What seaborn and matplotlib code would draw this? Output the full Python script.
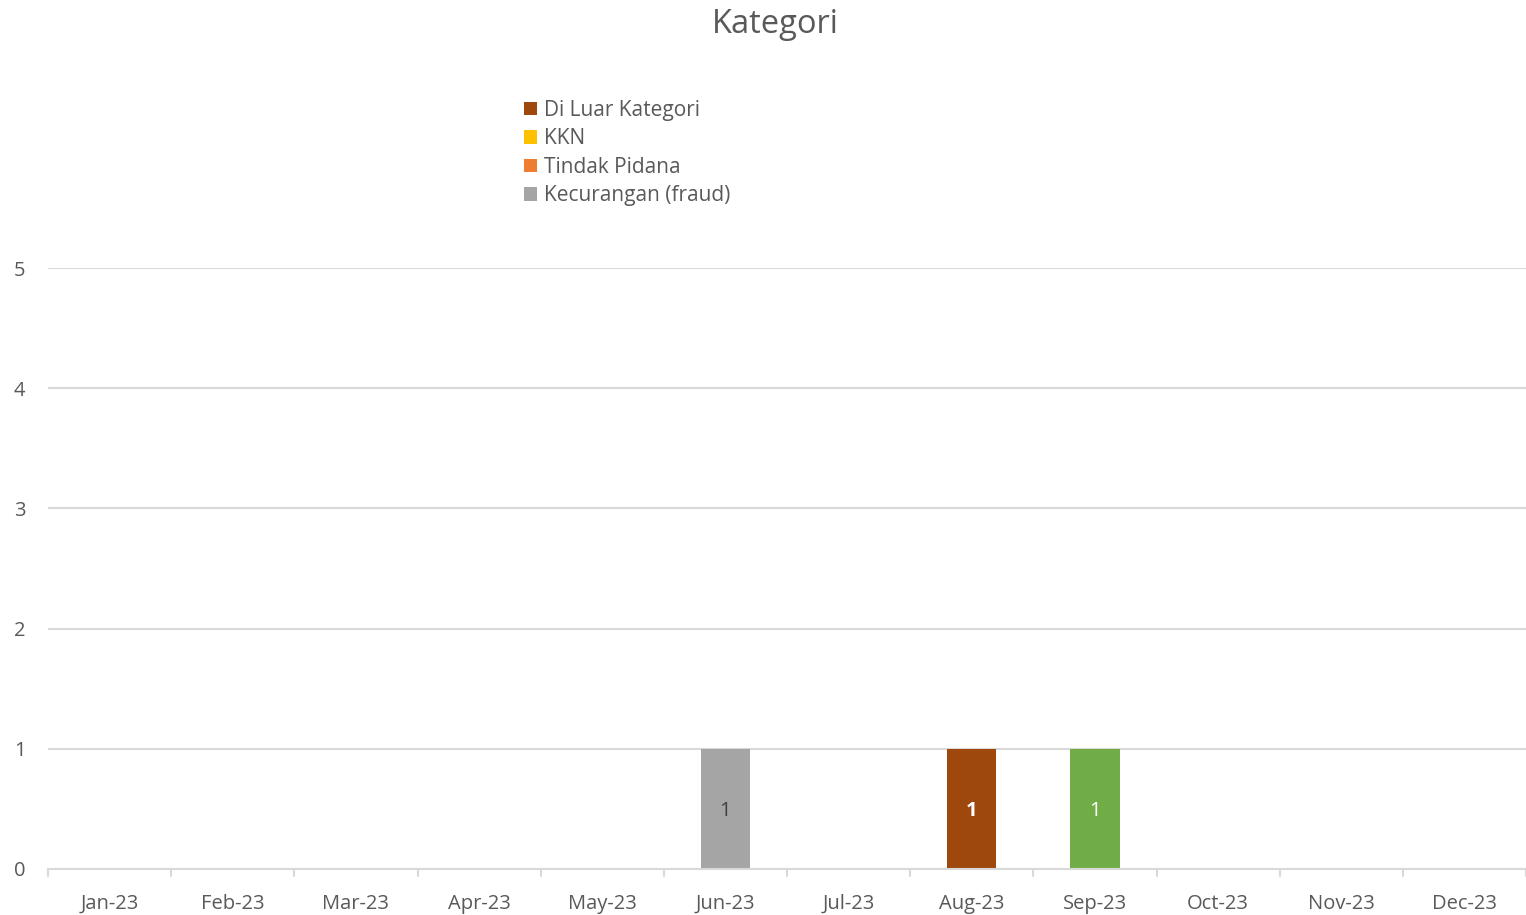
import numpy as np
import pandas as pd
import matplotlib.pyplot as plt
import seaborn as sns

# Data
bulan = ['Jan-23', 'Feb-23', 'Mar-23', 'Apr-23', 'May-23', 'Jun-23',
         'Jul-23', 'Aug-23', 'Sep-23', 'Oct-23', 'Nov-23', 'Dec-23']
di_luar_kategori = [0, 0, 0, 0, 0, 0, 0, 1, 0, 0, 0, 0]
kkn = [0, 0, 0, 0, 0, 0, 0, 0, 0, 0, 0, 0]
tindak_pidana = [0, 0, 0, 0, 0, 0, 0, 0, 0, 0, 0, 0]
kecurangan = [0, 0, 0, 0, 0, 1, 0, 0, 0, 0, 0, 0]
lainnya = [0, 0, 0, 0, 0, 0, 0, 0, 1, 0, 0, 0]  # seri hijau, tanpa legenda

seri = [
    ('Di Luar Kategori', di_luar_kategori, '#9E480E', 'white', 'bold', True),
    ('KKN', kkn, '#FFC000', '#404040', 'normal', True),
    ('Tindak Pidana', tindak_pidana, '#ED7D31', '#404040', 'normal', True),
    ('Kecurangan (fraud)', kecurangan, '#A5A5A5', '#404040', 'normal', True),
    ('Lainnya', lainnya, '#70AD47', 'white', 'normal', False),
]

sns.set_style('white')
plt.rcParams['font.family'] = ['Open Sans', 'DejaVu Sans']

fig = plt.figure(figsize=(15.26, 9.15), dpi=100)
ax = fig.add_axes([0.0315, 0.0503, 0.9685, 0.6567])

bawah = np.zeros(len(bulan))
for nama, nilai, warna, warna_teks, tebal, di_legenda in seri:
    df = pd.DataFrame({'Bulan': bulan, 'Nilai': nilai})
    sns.barplot(data=df, x='Bulan', y='Nilai', color=warna, width=0.4,
                bottom=bawah, ax=ax, saturation=1, errorbar=None,
                linewidth=0, label=nama if di_legenda else '_nolegend_')
    bars = ax.containers[-1]
    for rect, v, b in zip(bars, nilai, bawah):
        if v > 0:
            ax.text(rect.get_x() + rect.get_width() / 2, b + v / 2 - 0.02,
                    f'{v}', ha='center', va='center', color=warna_teks,
                    fontsize=14.5, fontweight=tebal)
    bawah = bawah + np.array(nilai)

if ax.get_legend() is not None:
    ax.get_legend().remove()

ax.set_ylim(0, 5)
ax.set_xlim(-0.5, len(bulan) - 0.5)
ax.set_yticks(range(6))
ax.yaxis.grid(True, color='#D9D9D9', linewidth=1.5)
ax.set_axisbelow(True)
for s in ['top', 'right', 'left']:
    ax.spines[s].set_visible(False)
ax.spines['bottom'].set_color('#D9D9D9')
ax.spines['bottom'].set_linewidth(1.5)
ax.set_xlabel('')
ax.set_ylabel('')
ax.tick_params(axis='y', length=0, labelsize=14.5, labelcolor='#595959', pad=20.5)
ax.tick_params(axis='x', length=0, labelsize=14.5, labelcolor='#595959', pad=18)
for t in ax.get_yticklabels():
    t.set_horizontalalignment('center')

# tick pemisah kategori
for i in range(len(bulan) + 1):
    ax.plot([i - 0.5, i - 0.5], [0, -0.06], color='#D9D9D9', lw=1.5,
            clip_on=False)

fig.text(0.508, 0.973, 'Kategori', ha='center', va='center',
         fontsize=23.5, color='#595959')

h, l = ax.get_legend_handles_labels()
leg = fig.legend(h, l, loc='upper left', bbox_to_anchor=(0.3435, 0.891),
                 frameon=False, fontsize=15, labelcolor='#595959',
                 handlelength=0.62, handleheight=0.62, handletextpad=0.35,
                 labelspacing=0.36, borderaxespad=0, borderpad=0)

plt.savefig('out.png', dpi=100)
